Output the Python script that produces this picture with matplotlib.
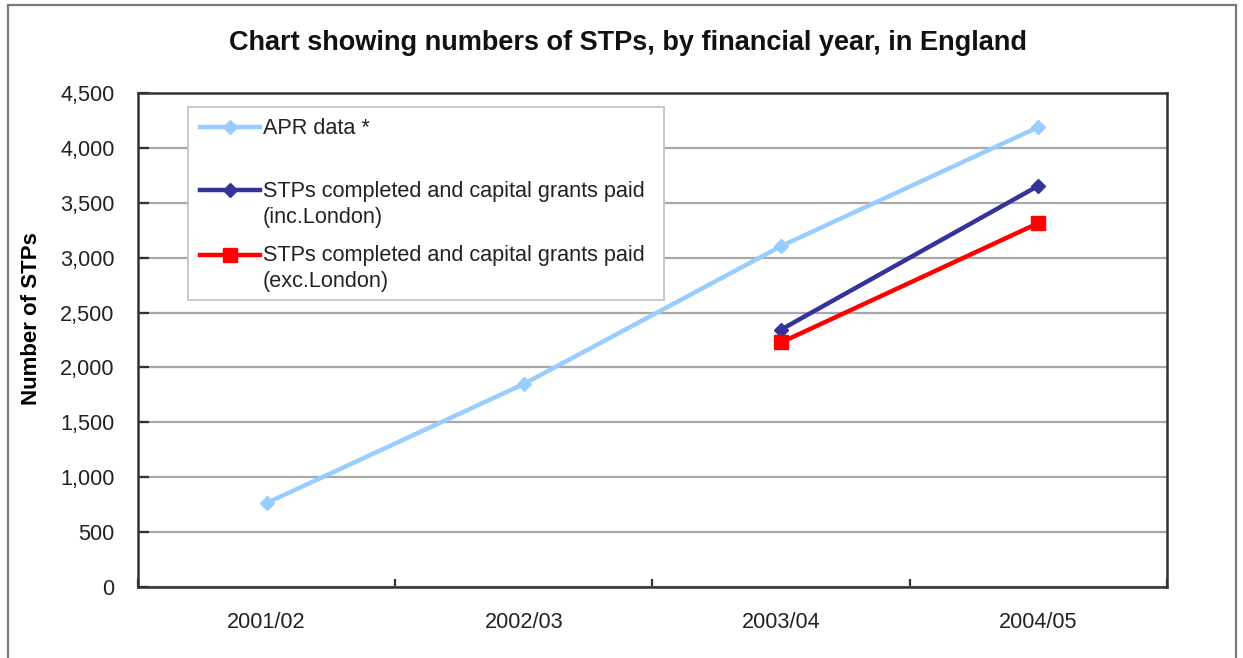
import numpy as np
import matplotlib
matplotlib.use("Agg")
import matplotlib.pyplot as plt
from matplotlib.lines import Line2D
from matplotlib.patches import Rectangle

plt.rcParams['font.family'] = ['Liberation Sans', 'DejaVu Sans']

# Financial years and series values
years = ["2001/02", "2002/03", "2003/04", "2004/05"]
apr_data = [765, 1850, 3105, 4190]
inc_london = [np.nan, np.nan, 2345, 3655]
exc_london = [np.nan, np.nan, 2228, 3315]

labels = ["APR data *",
          "STPs completed and capital grants paid\n(inc.London)",
          "STPs completed and capital grants paid\n(exc.London)"]
yticks = np.arange(0, 4501, 500)

fig = plt.figure(figsize=(12.43, 6.58), dpi=100)
W, H = 1243, 658
FS = 15.6

# outer chart frame
fig.patches.append(Rectangle((8 / W, -0.05), (1236 - 8) / W, 1 - 5 / H + 0.05,
                             transform=fig.transFigure, fill=False,
                             edgecolor="#7a7a7a", linewidth=1.6))

ax = fig.add_axes([138 / W, 1 - 587 / H, (1167 - 138) / W, (587 - 93) / H])

x = np.arange(len(years))
ax.plot(x, apr_data, color="#99CCFF", lw=3.2, marker="D", ms=7.5, zorder=3)
ax.plot(x, inc_london, color="#333399", lw=3.2, marker="D", ms=7.5, zorder=4)
ax.plot(x, exc_london, color="#FF0000", lw=3.2, marker="s", ms=10, zorder=4)

ax.set_xlim(-0.5, len(years) - 0.5)
ax.set_ylim(0, 4500)
ax.set_yticks(yticks)
ax.set_yticklabels([f"{v:,}" for v in yticks], fontsize=FS, color="#222222")
ax.set_xticks(x)
ax.set_xticklabels(years, fontsize=FS, color="#222222")
ax.set_xticks(np.arange(len(years) + 1) - 0.5, minor=True)
ax.tick_params(axis="x", which="major", length=0, pad=18)
ax.tick_params(axis="x", which="minor", direction="in", length=6, width=1.6, color="#333333")
ax.tick_params(axis="y", direction="in", length=8, width=1.6, color="#333333", pad=17)

ax.grid(axis="y", color="#a8a8a8", linewidth=1.6)
ax.set_axisbelow(True)
for s in ax.spines.values():
    s.set_color("#333333")
    s.set_linewidth(1.8)

ax.set_ylabel("Number of STPs", fontsize=16, fontweight="bold")
ax.yaxis.set_label_coords(-(138 - 42) / (1167 - 138), (587 - 319) / (587 - 93))

fig.text(628 / W, 1 - 43 / H, "Chart showing numbers of STPs, by financial year, in England",
         ha="center", va="center", fontsize=19.5, fontweight="bold", color="#111111")

# legend box drawn in axes coordinates
def ax_xy(px, py):
    return (px - 138) / (1167 - 138), (587 - py) / (587 - 93)

bx0, by1 = ax_xy(188, 107)
bx1, by0 = ax_xy(664, 300)
ax.add_patch(Rectangle((bx0, by0), bx1 - bx0, by1 - by0, transform=ax.transAxes,
                       facecolor="white", edgecolor="#c8c8c8", linewidth=1.4, zorder=6))

lines = ax.get_lines()
handle_rows = [127, 190, 255]
text_rows = [[128], [192, 217], [256, 281]]
for ln, lab, hy, trows in zip(lines, labels, handle_rows, text_rows):
    hx0, hyy = ax_xy(200, hy)
    hx1, _ = ax_xy(260, hy)
    hxm, _ = ax_xy(230, hy)
    ax.add_line(Line2D([hx0, hx1], [hyy, hyy], transform=ax.transAxes, color=ln.get_color(),
                       lw=ln.get_linewidth(), zorder=7))
    ax.add_line(Line2D([hxm], [hyy], transform=ax.transAxes, color=ln.get_color(),
                       marker=ln.get_marker(), ms=ln.get_markersize(), lw=0, zorder=8))
    for part, ty in zip(lab.split("\n"), trows):
        tx, tyy = ax_xy(263, ty)
        ax.text(tx, tyy, part, transform=ax.transAxes, ha="left", va="center",
                fontsize=FS, color="#222222", zorder=8)

fig.savefig("out.png", dpi=100)
